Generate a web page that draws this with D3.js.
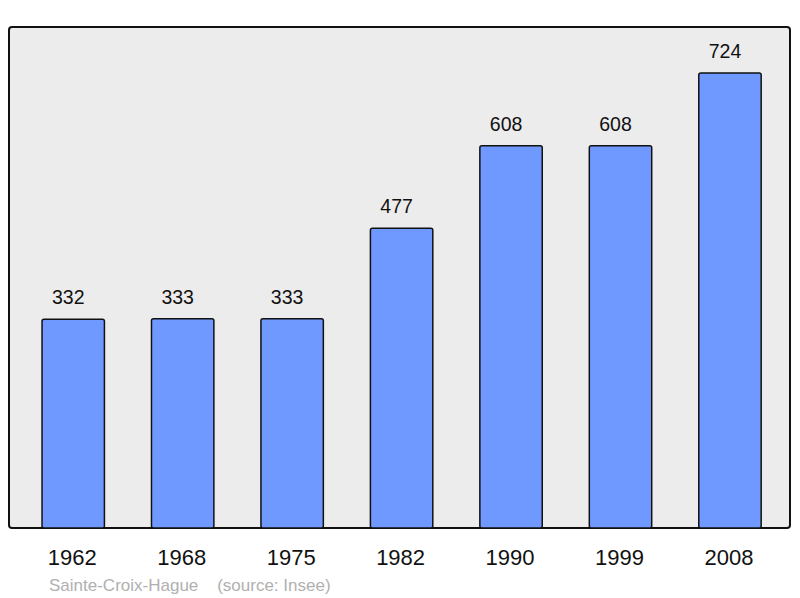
<!DOCTYPE html>
<html><head><meta charset="utf-8">
<script src="https://cdn.jsdelivr.net/npm/d3@7"></script>
<style>body{margin:0;background:#fff}svg{display:block}</style>
</head><body>
<svg id="c" width="800" height="598"></svg>
<script>
const years = ["1962","1968","1975","1982","1990","1999","2008"];
const population = [332,333,333,477,608,608,724];
const caption = "Sainte-Croix-Hague    (source: Insee)";

const svg = d3.select("#c");
const font = "'Liberation Sans', Arial, sans-serif";

svg.append("rect").attr("x",9).attr("y",27).attr("width",781).attr("height",501)
  .attr("rx",3).attr("fill","#ececec").attr("stroke","#111").attr("stroke-width",2);

const x = d3.scaleBand().domain(years).range([18.5,784.7]).paddingInner(0.43).paddingOuter(0.215);
const y = d3.scaleLinear().domain([0,797]).range([528,27]);

svg.selectAll("rect.bar").data(years).join("rect").attr("class","bar")
  .attr("x",d=>x(d)).attr("width",x.bandwidth())
  .attr("y",(d,i)=>y(population[i])).attr("height",(d,i)=>y(0)-y(population[i]))
  .attr("rx",2).attr("fill","#7099ff").attr("stroke","#111").attr("stroke-width",1.5);

svg.selectAll("text.val").data(years).join("text").attr("class","val")
  .attr("x",d=>x(d)+x.bandwidth()/2-5).attr("y",(d,i)=>y(population[i])-15)
  .attr("text-anchor","middle").attr("font-family",font).attr("font-size",19.5)
  .attr("fill","#111").text((d,i)=>population[i]);

const xAxis = svg.append("g").attr("transform","translate(0,528)")
  .call(d3.axisBottom(x).tickSize(0).tickPadding(0));
xAxis.select(".domain").remove();
xAxis.selectAll("text").attr("font-family",font).attr("font-size",22).attr("fill","#111")
  .attr("dy",null).attr("y",37).attr("dx",-1);

svg.append("text").attr("x",49).attr("y",590.5).attr("font-family",font).attr("font-size",17)
  .attr("fill","#b0b0b0").attr("xml:space","preserve").style("white-space","pre").text(caption);
</script>
</body></html>
